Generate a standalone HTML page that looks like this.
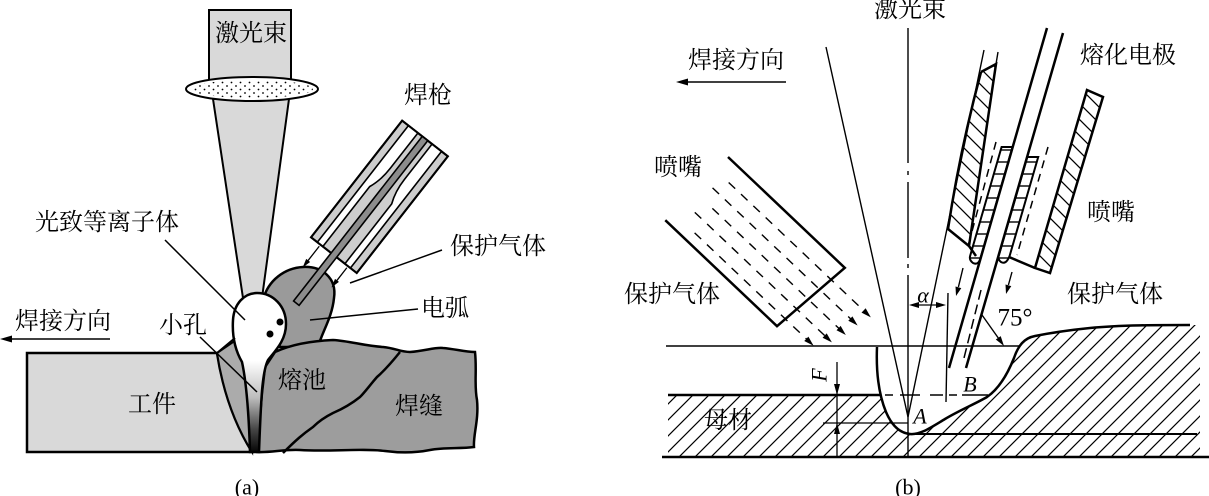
<!DOCTYPE html>
<html><head><meta charset="utf-8"><title>diagram</title>
<style>
html,body{margin:0;padding:0;background:#fff;width:1209px;height:496px;overflow:hidden}
svg{display:block}
.t{font-family:"Liberation Serif","Noto Serif CJK SC",serif;font-size:24px;fill:#000}
.i{font-family:"Liberation Serif",serif;font-style:italic;font-size:22px;fill:#000}
.r{font-family:"Liberation Serif",serif;font-size:22px;fill:#000}
</style></head><body>
<svg width="1209" height="496" viewBox="0 0 1209 496" xmlns="http://www.w3.org/2000/svg">
<defs>
 <pattern id="dots" width="9" height="7" patternUnits="userSpaceOnUse"><circle cx="2" cy="2" r="0.9" fill="#000"/><circle cx="6.5" cy="5.5" r="0.9" fill="#000"/></pattern>
 <linearGradient id="kh" gradientUnits="userSpaceOnUse" x1="0" y1="293" x2="0" y2="454">
   <stop offset="0" stop-color="#fff"/><stop offset="0.42" stop-color="#fff"/><stop offset="0.65" stop-color="#bdbdbd"/><stop offset="0.85" stop-color="#444"/><stop offset="1" stop-color="#000"/>
 </linearGradient>
 <pattern id="hatch" width="16" height="16" patternUnits="userSpaceOnUse"><path d="M-2 18 L18 -2 M-2 2 L2 -2 M14 18 L18 14" stroke="#000" stroke-width="1.2"/></pattern>
 <pattern id="hatch2" width="16" height="16" patternUnits="userSpaceOnUse"><path d="M-2 -2 L18 18 M-2 14 L2 18 M14 -2 L18 2" stroke="#000" stroke-width="1.3"/></pattern>
 <pattern id="hh" width="10" height="12" patternUnits="userSpaceOnUse"><path d="M0 6 H10" stroke="#000" stroke-width="1.4"/></pattern>
</defs>

<!-- ================= (a) ================= -->
<rect x="209" y="10" width="82" height="70" fill="#d9d9d9" stroke="#000" stroke-width="2"/>
<text class="t" x="251" y="34" text-anchor="middle" dominant-baseline="central">激光束</text>
<path d="M213 99 L243 298 L262 298 L289 99 Z" fill="#d9d9d9" stroke="#000" stroke-width="2"/>
<ellipse cx="252" cy="89" rx="66" ry="12" fill="#fff" stroke="#000" stroke-width="2"/>
<ellipse cx="252" cy="89" rx="61" ry="9" fill="url(#dots)"/>

<!-- arc -->
<path d="M263 300 C268 280, 285 268, 303 267 C322 266, 337 278, 334 298 C332 318, 322 332, 318 347 L280 347 Z" fill="#9a9a9a" stroke="#000" stroke-width="2.5"/>

<!-- torch -->
<g transform="translate(425 138.5) rotate(38)">
 <rect x="-29" y="0" width="58" height="148" fill="#cdcdcd" stroke="#000" stroke-width="2"/>
 <path d="M-21 0 L-9 0 L-9 45 Q-9 60 -14 72 L-14 148 L-21 148 Z" fill="#fff" stroke="#000" stroke-width="1.6"/>
 <path d="M9 0 L21 0 L21 148 L14 148 L14 72 Q9 60 9 45 Z" fill="#fff" stroke="#000" stroke-width="1.6"/>
 <rect x="-29" y="0" width="58" height="148" fill="none" stroke="#000" stroke-width="2"/>
 <rect x="-3.5" y="0" width="7" height="209" fill="#8c8c8c" stroke="#000" stroke-width="1.6"/>
 <path d="M-17 150 L-17 169 M18 150 L18 167" stroke="#000" stroke-width="1.3"/>
 <path d="M-17 177 L-19.5 168 L-14.5 168 Z M18 175 L15.5 166 L20.5 166 Z" fill="#000"/>
</g>

<!-- workpiece -->
<path d="M27 353 L217 353 C222 385, 232 420, 252 452 L27 452 Z" fill="#d9d9d9" stroke="#000" stroke-width="2.5"/>
<!-- weld region -->
<path d="M257 452 L262 393 L265 367 L275 352 C290 345, 310 341, 333 340 C350 341, 365 346, 383 347 C395 348, 400 352, 410 352 C425 351, 435 347, 443 348 C455 349, 465 352, 475 352 C477 370, 474 385, 477 400 C479 420, 473 435, 474 447 C460 449, 445 447, 430 450 C415 453, 400 453, 385 451 C360 448, 330 452, 300 450 C285 449, 270 453, 257 452 Z" fill="#9d9d9d" stroke="#000" stroke-width="2.5"/>
<path d="M400 352 C392 362, 385 370, 377 377 C370 385, 365 392, 360 397 C350 405, 340 410, 333 413 C323 418, 318 422, 313 427 C303 434, 296 440, 283 453" fill="none" stroke="#000" stroke-width="2.5"/>
<!-- wedge -->
<path d="M217 353 C222 385, 232 420, 252 452 L250 410 L244 362 L236 340 Z" fill="#ababab" stroke="#000" stroke-width="2"/>
<!-- plasma + keyhole -->
<path d="M257 293 C273 293, 286 306, 286 324 C286 340, 276 350, 268 360 C262 372, 261 400, 259 452 L250 452 C249 420, 247 385, 242 362 C235 350, 232 336, 233 320 C234 304, 244 293, 257 293 Z" fill="url(#kh)" stroke="#000" stroke-width="2.5"/>
<path d="M235 338 L217 353" stroke="#000" stroke-width="2"/>
<circle cx="280" cy="322" r="3.5" fill="#000"/>
<circle cx="270" cy="334" r="3.5" fill="#000"/>

<!-- leaders -->
<path d="M165 240 L245 320 M200 337 L257 392 M350 283 L442 250 M310 320 L418 309" stroke="#000" stroke-width="1.5" fill="none"/>

<text class="t" x="428" y="96" text-anchor="middle" dominant-baseline="central">焊枪</text>
<text class="t" x="107" y="223" text-anchor="middle" dominant-baseline="central">光致等离子体</text>
<text class="t" x="498" y="247" text-anchor="middle" dominant-baseline="central">保护气体</text>
<text class="t" x="445" y="309" text-anchor="middle" dominant-baseline="central">电弧</text>
<text class="t" x="63" y="322" text-anchor="middle" dominant-baseline="central">焊接方向</text>
<text class="t" x="183" y="326" text-anchor="middle" dominant-baseline="central">小孔</text>
<text class="t" x="302" y="381" text-anchor="middle" dominant-baseline="central">熔池</text>
<text class="t" x="152" y="405" text-anchor="middle" dominant-baseline="central">工件</text>
<text class="t" x="419" y="407" text-anchor="middle" dominant-baseline="central">焊缝</text>
<path d="M10 339 L110 339" stroke="#000" stroke-width="1.5"/>
<path d="M0 339 L12 335.5 L12 342.5 Z" fill="#000"/>
<text class="r" x="247" y="487" text-anchor="middle" dominant-baseline="central">(a)</text>

<!-- ================= (b) ================= -->
<text class="t" x="910" y="10" text-anchor="middle" dominant-baseline="central">激光束</text>
<text class="t" x="736" y="61" text-anchor="middle" dominant-baseline="central">焊接方向</text>
<path d="M686 82 L786 82" stroke="#000" stroke-width="1.5"/>
<path d="M676 82 L688 78.5 L688 85.5 Z" fill="#000"/>
<text class="t" x="1128" y="56" text-anchor="middle" dominant-baseline="central">熔化电极</text>
<text class="t" x="678" y="168" text-anchor="middle" dominant-baseline="central">喷嘴</text>
<text class="t" x="1111" y="213" text-anchor="middle" dominant-baseline="central">喷嘴</text>
<text class="t" x="672" y="295" text-anchor="middle" dominant-baseline="central">保护气体</text>
<text class="t" x="1115" y="295" text-anchor="middle" dominant-baseline="central">保护气体</text>

<!-- hatched base -->
<path d="M668 395 L879 395 L877 347 C876 372, 879 395, 886 412 C892 426, 900 433, 910 434 C920 435, 930 428, 945 419 C960 410, 975 404, 987 397 C1000 388, 1008 373, 1014 358 C1018 346, 1024 338, 1035 336 C1050 333, 1070 330, 1090 328 C1120 325, 1160 325, 1190 325 L1200 325 L1200 457 L668 457 Z" fill="url(#hatch)"/>
<path d="M877 347 C876 372, 879 395, 886 412 C892 426, 900 433, 910 434 C920 435, 930 428, 945 419 C960 410, 975 404, 987 397 C1000 388, 1008 373, 1014 358 C1018 346, 1024 338, 1035 336 C1050 333, 1070 330, 1090 328 C1120 325, 1160 325, 1190 325" fill="none" stroke="#000" stroke-width="2.5"/>
<path d="M668 395 L880 395" stroke="#000" stroke-width="2.5"/>
<path d="M662 457 L1209 457" stroke="#000" stroke-width="2.5"/>
<path d="M913 434 L1197 434" stroke="#000" stroke-width="2"/>
<path d="M666 346 L1019 346" stroke="#000" stroke-width="1.5"/>
<path d="M885 395 H893 M900 395 H920 M930 395 H943 M949 395 H957 M962 395 H988" stroke="#000" stroke-width="1.5"/>
<path d="M823 423 L908 423" stroke="#000" stroke-width="1.3"/>

<!-- center dash-dot line and cone -->
<path d="M908 28 V163 M908 171 V175 M908 182 V258 M908 264 V268 M908 275 V457" stroke="#000" stroke-width="1.4"/>
<path d="M826 47 L908 417 M984 50 L908 417" stroke="#000" stroke-width="1.4" fill="none"/>

<!-- F dimension -->
<path d="M837 362 L837 457" stroke="#000" stroke-width="1.3"/>
<path d="M837 395 L834 384 L840 384 Z M837 423 L834 434 L840 434 Z" fill="#000"/>
<text class="i" transform="translate(819 375) rotate(-90)" text-anchor="middle" dominant-baseline="central">F</text>

<!-- left nozzle -->
<g transform="translate(728 157) rotate(43.5)">
 <path d="M0 0 L161 0 L152 89 L-2 89" fill="none" stroke="#000" stroke-width="2.5"/>
 <g stroke="#000" stroke-width="1.4" stroke-dasharray="9 8">
  <path d="M18 18 L205 18"/>
  <path d="M10 33 L201 33"/>
  <path d="M24 48 L199 48"/>
  <path d="M14 63 L194 63"/>
  <path d="M28 78 L183 78"/>
 </g>
 <g fill="#000">
  <path d="M214 18 L204 15 L204 21 Z"/>
  <path d="M210 33 L200 30 L200 36 Z"/>
  <path d="M208 48 L198 45 L198 51 Z"/>
  <path d="M203 63 L193 60 L193 66 Z"/>
  <path d="M192 78 L182 75 L182 81 Z"/>
 </g>
</g>

<!-- right nozzle assembly -->
<path d="M981 72 L996 64 L969 246 L948 229 Q960 150 981 72 Z" fill="url(#hatch2)"/>
<path d="M981 72 L996 64 L969 246 M981 72 Q960 150 948 229 L969 246 L976 256" fill="none" stroke="#000" stroke-width="2.5"/>
<path d="M996 64 L998 52" stroke="#000" stroke-width="1.4"/>
<path d="M1087 90 L1103 97 L1050 273 L1035 268 Z" fill="url(#hatch2)" stroke="#000" stroke-width="2.5"/>
<path d="M1035 268 L1009 257" stroke="#000" stroke-width="2.5"/>
<path d="M1001.6 147 L1012.6 147 L981.1 256 Q979 266 973 263 Q969 260 970.1 256 Z" fill="url(#hh)" stroke="#000" stroke-width="2"/>
<path d="M1027.2 157 L1038.2 157 L1009.6 256 Q1006 265 1001 262 Q998 260 998.6 256 Z" fill="url(#hh)" stroke="#000" stroke-width="2"/>
<path d="M996 142 L967 250 M1048 147 L1017 255" stroke="#000" stroke-width="1.5" stroke-dasharray="8 6"/>
<path d="M1047 28 L949 368 M1063 33 L966 368" stroke="#000" stroke-width="2.5"/>
<path d="M981 290 L963 362" stroke="#000" stroke-width="1.5" stroke-dasharray="10 5"/>
<!-- gas arrows -->
<path d="M963 268 L958.4 287 M1012 272 L1008.4 285" stroke="#000" stroke-width="1.4"/>
<path d="M956 296 L961.3 288.1 L955.5 286.5 Z M1006 294 L1011.3 286.1 L1005.5 284.5 Z" fill="#000"/>

<!-- alpha -->
<path d="M948 293 L946 402" stroke="#000" stroke-width="1.4"/>
<path d="M915 305 L940 305" stroke="#000" stroke-width="1.3"/>
<path d="M909 305 L919 302 L919 308 Z M946 305 L936 302 L936 308 Z" fill="#000"/>
<text class="i" x="923" y="295" text-anchor="middle" dominant-baseline="central">α</text>

<!-- 75 deg -->
<path d="M982 315 L999 339" stroke="#000" stroke-width="1.4"/>
<path d="M1004 346 L1000.7 336.1 L995.8 339.5 Z" fill="#000"/>
<text class="r" x="1015" y="318" text-anchor="middle" dominant-baseline="central" style="font-size:25px">75°</text>

<text class="i" x="970" y="384" text-anchor="middle" dominant-baseline="central">B</text>
<text class="i" x="920" y="416" text-anchor="middle" dominant-baseline="central">A</text>
<text class="t" x="728" y="421" text-anchor="middle" dominant-baseline="central">母材</text>
<text class="r" x="908" y="487" text-anchor="middle" dominant-baseline="central">(b)</text>
</svg>
</body></html>
